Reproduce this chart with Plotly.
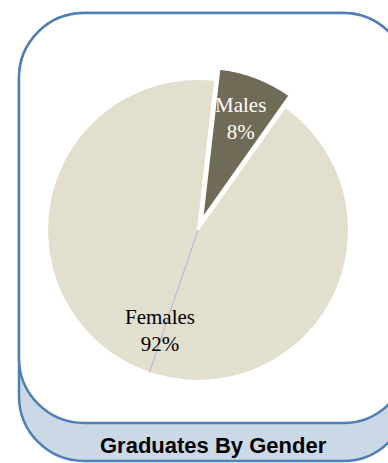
import math
import plotly.graph_objects as go

labels = ["Males", "Females"]
values = [8, 92]
slice_colors = ["#6f6b57", "#e2dfcf"]
label_colors = ["white", "black"]
pulls = [0.08, 0]
title_text = "Graduates By Gender"

W, H = 388, 463

# pie domain in window pixels (left, top, right, bottom)
dl, dt, dr, db = 35, 67, 361, 393
rotation = 6.5


def fx(x):
    return x / W


def fy(y):
    return 1 - y / H


fig = go.Figure()
fig.add_trace(go.Pie(
    labels=labels, values=values, sort=False, direction="clockwise",
    rotation=rotation, pull=pulls,
    marker=dict(colors=slice_colors, line=dict(color="white", width=2)),
    textinfo="none", hoverinfo="label+percent", showlegend=False,
    domain=dict(x=[fx(dl), fx(dr)], y=[fy(db), fy(dt)]),
))

# geometry for label positions derived from data
cx, cy = (dl + dr) / 2, (dt + db) / 2
r = min(dr - dl, db - dt) / 2 / (1 + max(pulls))
total = sum(values)
ang = rotation
annotations = []
for lab, v, p, col in zip(labels, values, pulls, label_colors):
    mid = ang + 360 * v / total / 2
    ang += 360 * v / total
    d = r * (0.71 + p)
    x = cx + d * math.sin(math.radians(mid))
    y = cy - d * math.cos(math.radians(mid))
    annotations.append(dict(
        x=x, y=y, xref="x", yref="y", showarrow=False,
        text=f"{lab}<br>{round(100 * v / total)}%",
        font=dict(family="Liberation Serif, Times New Roman, serif", size=21, color=col),
    ))

annotations.append(dict(
    x=213, y=445, xref="x", yref="y", showarrow=False, text=title_text,
    font=dict(family="Liberation Sans, Arial, sans-serif", size=22, color="black", weight="bold"),
))


def rrect(x0, y0, x1, y1, rad):
    k = 0.5523 * rad
    return (f"M {x0+rad},{y0} L {x1-rad},{y0} "
            f"C {x1-rad+k},{y0} {x1},{y0+rad-k} {x1},{y0+rad} "
            f"L {x1},{y1-rad} "
            f"C {x1},{y1-rad+k} {x1-rad+k},{y1} {x1-rad},{y1} "
            f"L {x0+rad},{y1} "
            f"C {x0+rad-k},{y1} {x0},{y1-rad+k} {x0},{y1-rad} "
            f"L {x0},{y0+rad} "
            f"C {x0},{y0+rad-k} {x0+rad-k},{y0} {x0+rad},{y0} Z")


border = "#4f7fb8"
shapes = [
    dict(type="path", path=rrect(19, 13, 408, 461, 65), xref="x", yref="y",
         fillcolor="#cbd9e7", line=dict(color=border, width=2.5), layer="below"),
    dict(type="path", path=rrect(19, 13, 408, 423, 65), xref="x", yref="y",
         fillcolor="white", line=dict(color=border, width=2.5), layer="below"),
]

# faint seam line in the Females slice (rendering artefact in reference)
seam_ang = math.radians(198.8)
shapes.append(dict(type="line", xref="x", yref="y",
                   x0=cx, y0=cy, x1=cx + r * math.sin(seam_ang), y1=cy - r * math.cos(seam_ang),
                   line=dict(color="#9e9ee0", width=1), opacity=0.7, layer="above"))

fig.update_layout(
    width=W, height=H, autosize=False,
    margin=dict(l=0, r=0, t=0, b=0),
    paper_bgcolor="white", plot_bgcolor="rgba(0,0,0,0)",
    xaxis=dict(range=[0, W], visible=False, domain=[0, 1], fixedrange=True),
    yaxis=dict(range=[H, 0], visible=False, domain=[0, 1], fixedrange=True),
    shapes=shapes,
    annotations=annotations,
)

fig.write_html(
    "out.html",
    config={"displayModeBar": False},
    post_script="document.body.style.margin='0';document.body.style.overflow='hidden';",
)
